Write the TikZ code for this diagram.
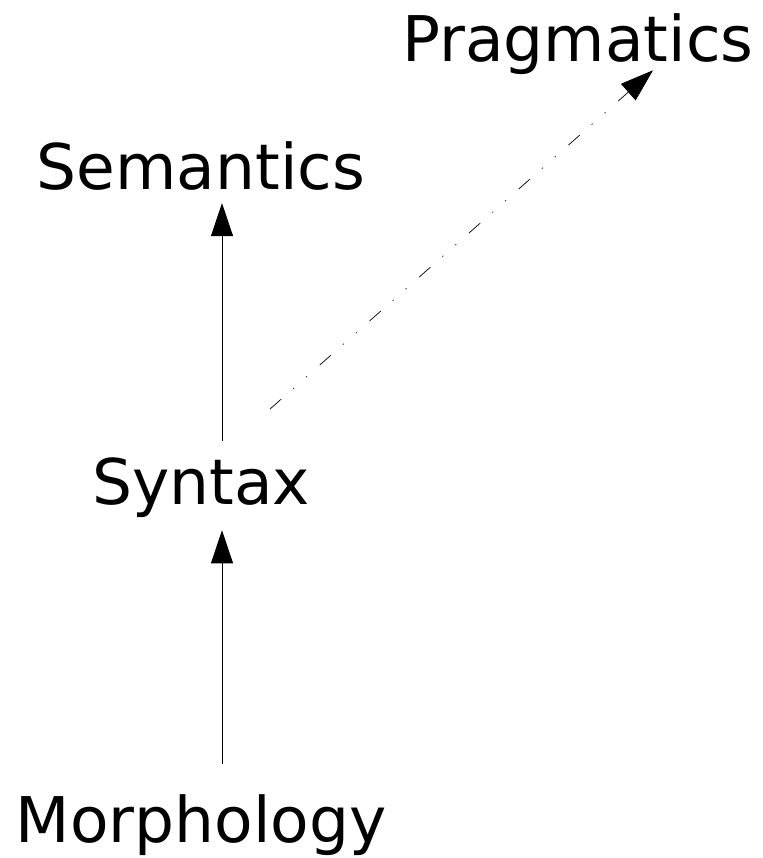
\documentclass[tikz,border=0pt]{standalone}
\usepackage{fontspec}
\setmainfont{DejaVu Sans}
\usetikzlibrary{arrows.meta,calc}
\tikzset{
  level/.style={inner sep=12pt,font=\fontsize{63}{76}\selectfont},
  link/.style={draw,line width=0.9pt,-{Triangle[length=33pt,width=22pt]}},
  loose/.style={dash pattern=on 15pt off 16pt on 1.2pt off 16pt on 1.2pt off 17pt},
}
\begin{document}
\begin{tikzpicture}[x=1pt,y=1pt]
\useasboundingbox (0,0) rectangle (762,858);

\node[level,anchor=base] (morphology) at (201,15) {Morphology};
\node[level,anchor=base] (syntax) at (201,353) {Syntax};
\node[level,anchor=base] (semantics) at (201,668) {Semantics};
\node[level,anchor=base] (pragmatics) at (578,796) {Pragmatics};

\draw[link,shorten <=18.5pt] ([xshift=21pt]morphology.north) -- ([xshift=21pt]syntax.south);
\draw[link,shorten <=5pt] ([xshift=21pt]syntax.north) -- ([xshift=21pt]semantics.south);
\draw[link,loose,line width=0.7pt] ($(syntax.north)+(69,37)$) -- ($(pragmatics.south)+(75,17)$);

\end{tikzpicture}
\end{document}
